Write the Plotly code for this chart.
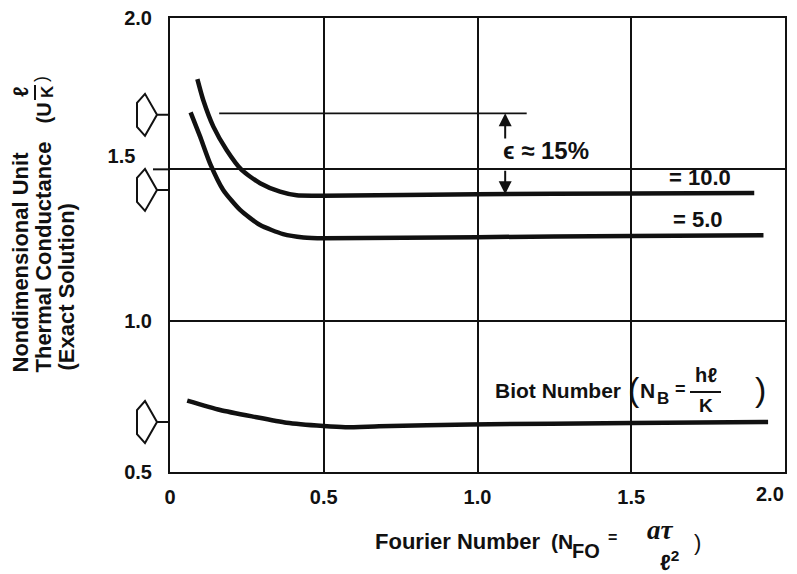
import plotly.graph_objects as go

# ---------------- data ----------------
fo_biot10 = [0.089, 0.108, 0.141, 0.184, 0.233, 0.293, 0.358, 0.412, 0.50, 1.0, 1.5, 1.90]
u_biot10 = [1.798, 1.729, 1.641, 1.564, 1.498, 1.454, 1.426, 1.414, 1.413, 1.418, 1.420, 1.422]

fo_biot5 = [0.067, 0.098, 0.130, 0.173, 0.228, 0.293, 0.368, 0.434, 0.50, 1.0, 1.5, 1.93]
u_biot5 = [1.688, 1.608, 1.520, 1.432, 1.366, 1.316, 1.286, 1.275, 1.272, 1.276, 1.280, 1.282]

fo_biot_low = [0.056, 0.163, 0.271, 0.379, 0.499, 0.57, 0.68, 0.976, 1.5, 1.945]
u_biot_low = [0.736, 0.705, 0.683, 0.663, 0.652, 0.648, 0.651, 0.657, 0.662, 0.665]

ref_line_x = [0.16, 1.16]
ref_line_y = [1.685, 1.685]
arrow_x = 1.09
arrow_upper = [1.597, 1.685]   # tail, tip
arrow_lower = [1.50, 1.418]    # tail, tip

marker_levels = [1.68, 1.432, 0.665]

x_ticks = [0, 0.5, 1.0, 1.5, 2.0]
x_ticktext = ["0", "0.5", "1.0", "1.5", ""]
x_last_label = "2.0"   # drawn just inside the right edge, as in the original
y_ticks = [0.5, 1.0, 1.5, 2.0]
y_ticktext = ["0.5", "1.0", "1.5" + "&nbsp;" * 3 + "<br>&nbsp;", "2.0"]

# ---------------- layout geometry ----------------
W, H = 797, 574
ML, MR, MT, MB = 170, 12, 18, 102
PW, PH = W - ML - MR, H - MT - MB
Y0, Y1 = 0.5, 2.0

def pxx(px):
    return (px - ML) / PW

def pxy(py):
    return (H - MB - py) / PH

FONT = "Liberation Sans, Arial, Helvetica, sans-serif"
SERIF = "Liberation Serif, Times New Roman, serif"
FS_TICK = 20
FS_LBL = 21
BLACK = "#111111"

fig = go.Figure()

line_style = dict(color=BLACK, width=4.5, shape="spline", smoothing=0.6)
for xs, ys in [(fo_biot10, u_biot10), (fo_biot5, u_biot5), (fo_biot_low, u_biot_low)]:
    fig.add_trace(go.Scatter(x=xs, y=ys, mode="lines", line=line_style,
                             showlegend=False, hoverinfo="skip"))

fig.add_trace(go.Scatter(x=ref_line_x, y=ref_line_y, mode="lines",
                         line=dict(color=BLACK, width=1.8),
                         showlegend=False, hoverinfo="skip"))

annotations = []

def txt(text, px, py, size=FS_LBL, xanchor="center", yanchor="middle", angle=0,
        weight="bold", style="normal", family=FONT):
    annotations.append(dict(text=text, x=pxx(px), y=pxy(py), xref="paper", yref="paper",
                            xanchor=xanchor, yanchor=yanchor, showarrow=False, textangle=angle,
                            font=dict(family=family, size=size, color=BLACK, weight=weight, style=style)))

# arrows for epsilon
for tail, tip in [arrow_upper, arrow_lower]:
    annotations.append(dict(x=arrow_x, y=tip, ax=arrow_x, ay=tail, xref="x", yref="y",
                            axref="x", ayref="y", text="", showarrow=True,
                            arrowhead=2, arrowsize=1.3, arrowwidth=2, arrowcolor=BLACK))

# last x tick label (shifted left of the frame edge)
txt(x_last_label, 770, 494, size=FS_TICK)

# in-plot labels
txt("\u03f5 \u2248 15%", 546, 151, size=24)
txt("= 10.0", 700, 178, size=22)
txt("= 5.0", 698, 219, size=22)

# Biot number label
txt("Biot Number", 493, 390, xanchor="left")
txt("(", 634, 389, size=34, weight="normal")
txt("N", 638, 390, xanchor="left")
txt("B", 655, 398, size=17, xanchor="left")
txt("=", 680, 389, size=18)
txt("h\u2113", 706, 375, size=20)
txt("K", 706, 405, size=19)
txt(")", 760, 389, size=34, weight="normal")

# x-axis title
txt("Fourier Number", 373, 541, xanchor="left", size=22)
txt("(N", 549, 541, xanchor="left")
txt("FO", 570, 551, xanchor="left", size=20)
txt("=", 612, 537, size=16)
txt("a\u03c4", 660, 530, size=27, style="italic", weight="bold", family=SERIF)
txt("\u2113<sup>2</sup>", 669, 561, size=22)
txt(")", 697, 542, size=22, weight="normal")

# y-axis title (rotated)
txt("Nondimensional Unit", 20, 375, xanchor="center", yanchor="bottom", angle=-90, size=22)
txt("Thermal Conductance", 43, 375, xanchor="center", yanchor="bottom", angle=-90, size=22)
txt("(U", 44, 126, xanchor="center", yanchor="bottom", angle=-90, size=20)
txt("\u2113", 20, 92, angle=-90, size=21)
txt("K", 47, 92, angle=-90, size=17)
txt(")", 41, 79, angle=-90, size=18, weight="normal")
txt("(Exact Solution)", 66, 373, xanchor="center", yanchor="bottom", angle=-90, size=22)

shapes = []
# fraction bars
shapes.append(dict(type="line", xref="paper", yref="paper", x0=pxx(690), x1=pxx(721),
                   y0=pxy(392), y1=pxy(392), line=dict(color=BLACK, width=2)))
shapes.append(dict(type="line", xref="paper", yref="paper", x0=pxx(35), x1=pxx(35),
                   y0=pxy(85), y1=pxy(100), line=dict(color=BLACK, width=2)))
# extended tick at 1.5
shapes.append(dict(type="line", xref="paper", yref="y", x0=pxx(153), x1=0,
                   y0=1.5, y1=1.5, line=dict(color=BLACK, width=2)))

# pentagon pointer markers on the y axis (outline given in pixel offsets)
pent_px = [(-33, -12), (-33, 12), (-25, 21), (-13, 0), (-25, -21)]
dy_per_px = (Y1 - Y0) / PH
for lv in marker_levels:
    pts = [(dx / PW, lv - dy * dy_per_px) for dx, dy in pent_px]
    path = "M" + " L".join(f"{x:.5f},{y:.5f}" for x, y in pts) + " Z"
    path += f" M{-13 / PW:.5f},{lv:.5f} L0,{lv:.5f}"
    shapes.append(dict(type="path", xref="paper", yref="y", path=path,
                       line=dict(color=BLACK, width=2), fillcolor="rgba(0,0,0,0)"))

axis_common = dict(showline=True, mirror=True, linecolor=BLACK, linewidth=2,
                   showgrid=True, gridcolor=BLACK, gridwidth=2, zeroline=False,
                   automargin=False,
                   ticks="", tickfont=dict(family=FONT, size=FS_TICK, color=BLACK, weight="bold"))

fig.update_layout(
    width=W, height=H,
    margin=dict(l=ML, r=MR, t=MT, b=MB, autoexpand=False),
    paper_bgcolor="white", plot_bgcolor="white",
    xaxis=dict(range=[0, 2.0], tickvals=x_ticks, ticktext=x_ticktext,
               ticklabelstandoff=6, **axis_common),
    yaxis=dict(range=[Y0, Y1], tickvals=y_ticks, ticktext=y_ticktext,
               ticklabelstandoff=12, **axis_common),
    annotations=annotations,
    shapes=shapes,
)

fig.write_html("out.html")
